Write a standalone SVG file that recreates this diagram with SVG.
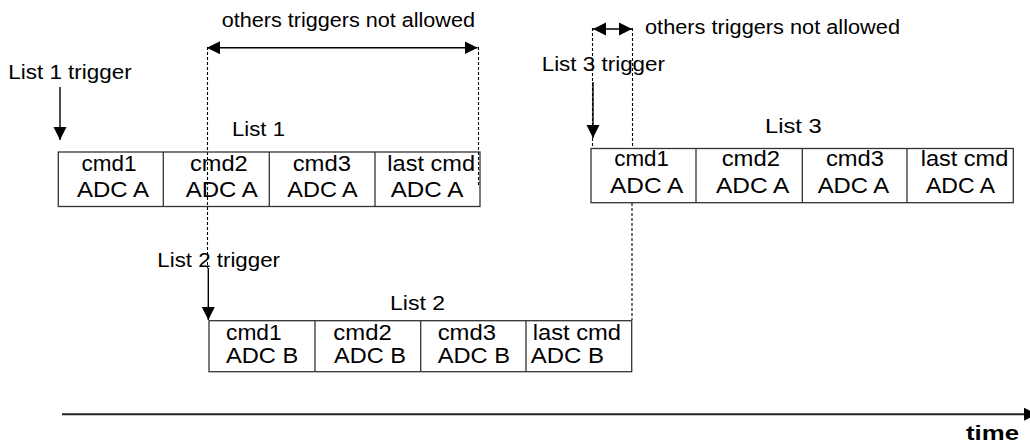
<svg xmlns="http://www.w3.org/2000/svg" width="1030" height="443" viewBox="0 0 1030 443">
<style>
text{font-family:"Liberation Sans",Arial,sans-serif;fill:#000}
.lbl{font-size:20px}
.cell{font-size:22px}
.box{fill:#fff;stroke:#333;stroke-width:1.3}
.div{stroke:#333;stroke-width:1.3}
.arr{stroke:#000;stroke-width:1.4;fill:none}
.dash{stroke:#000;stroke-width:1.1;stroke-dasharray:3 2;fill:none}
.axis{stroke:#222;stroke-width:2;fill:none}
</style>
<defs>
<marker id="ah" markerUnits="userSpaceOnUse" markerWidth="14" markerHeight="14" refX="13" refY="7" orient="auto-start-reverse">
<path d="M0,0.5 L13,7 L0,13.5 z" fill="#000"/>
</marker>
</defs>
<rect width="1030" height="443" fill="#fff"/>
<g id="connectors">
<line class="dash" x1="207.5" y1="47" x2="207.5" y2="268"/>
<line class="dash" x1="478.5" y1="47" x2="478.5" y2="185"/>
<line class="dash" x1="592.5" y1="28" x2="592.5" y2="148"/>
<line class="dash" x1="632.5" y1="28" x2="632.5" y2="148"/>
<line class="dash" x1="632" y1="203" x2="632" y2="320"/>
<line class="arr" x1="60" y1="87" x2="60" y2="140" marker-end="url(#ah)"/>
<line class="arr" x1="208.3" y1="268" x2="208.3" y2="320" marker-end="url(#ah)"/>
<line class="arr" x1="593" y1="82" x2="593" y2="138" marker-end="url(#ah)"/>
<line class="arr" x1="207" y1="47.7" x2="477.5" y2="47.7" marker-start="url(#ah)" marker-end="url(#ah)"/>
<line class="arr" x1="593" y1="29" x2="632" y2="29" marker-start="url(#ah)" marker-end="url(#ah)"/>
<line class="axis" x1="62" y1="414.3" x2="1037" y2="414.3" marker-end="url(#ah)"/>
</g>
<g id="list1">
<rect class="box" x="58.3" y="152" width="421.7" height="54.5" style="fill:none"/>
<line class="div" x1="163.3" y1="152" x2="163.3" y2="206.5"/>
<line class="div" x1="269.3" y1="152" x2="269.3" y2="206.5"/>
<line class="div" x1="375" y1="152" x2="375" y2="206.5"/>
<text class="cell" x="81.5" y="170.5" textLength="55" lengthAdjust="spacingAndGlyphs">cmd1</text>
<text class="cell" x="77" y="196.7" textLength="72" lengthAdjust="spacingAndGlyphs">ADC A</text>
<text class="cell" x="190" y="170.5" textLength="57.7" lengthAdjust="spacingAndGlyphs">cmd2</text>
<text class="cell" x="185.7" y="196.7" textLength="72" lengthAdjust="spacingAndGlyphs">ADC A</text>
<text class="cell" x="292.7" y="170.5" textLength="58.3" lengthAdjust="spacingAndGlyphs">cmd3</text>
<text class="cell" x="287.3" y="196.7" textLength="70.4" lengthAdjust="spacingAndGlyphs">ADC A</text>
<text class="cell" x="387.3" y="170.5" textLength="87.7" lengthAdjust="spacingAndGlyphs">last cmd</text>
<text class="cell" x="390.7" y="196.7" textLength="72.6" lengthAdjust="spacingAndGlyphs">ADC A</text>
</g>
<g id="list2">
<rect class="box" x="209" y="320.7" width="422.7" height="51"/>
<line class="div" x1="315" y1="320.7" x2="315" y2="371.7"/>
<line class="div" x1="420.7" y1="320.7" x2="420.7" y2="371.7"/>
<line class="div" x1="526" y1="320.7" x2="526" y2="371.7"/>
<text class="cell" x="226" y="340" textLength="55.7" lengthAdjust="spacingAndGlyphs">cmd1</text>
<text class="cell" x="226" y="362.7" textLength="72.3" lengthAdjust="spacingAndGlyphs">ADC B</text>
<text class="cell" x="333.3" y="340" textLength="58.4" lengthAdjust="spacingAndGlyphs">cmd2</text>
<text class="cell" x="334" y="362.7" textLength="72" lengthAdjust="spacingAndGlyphs">ADC B</text>
<text class="cell" x="437.7" y="340" textLength="58.3" lengthAdjust="spacingAndGlyphs">cmd3</text>
<text class="cell" x="437.7" y="362.7" textLength="72.3" lengthAdjust="spacingAndGlyphs">ADC B</text>
<text class="cell" x="532.7" y="340" textLength="88.3" lengthAdjust="spacingAndGlyphs">last cmd</text>
<text class="cell" x="530.7" y="362.7" textLength="73.3" lengthAdjust="spacingAndGlyphs">ADC B</text>
</g>
<g id="list3">
<rect class="box" x="591" y="148.5" width="422.3" height="54.2"/>
<line class="div" x1="696" y1="148.5" x2="696" y2="202.7"/>
<line class="div" x1="802.3" y1="148.5" x2="802.3" y2="202.7"/>
<line class="div" x1="907" y1="148.5" x2="907" y2="202.7"/>
<text class="cell" x="614.3" y="165.7" textLength="54.7" lengthAdjust="spacingAndGlyphs">cmd1</text>
<text class="cell" x="610" y="193.3" textLength="73.3" lengthAdjust="spacingAndGlyphs">ADC A</text>
<text class="cell" x="721.7" y="165.7" textLength="58.3" lengthAdjust="spacingAndGlyphs">cmd2</text>
<text class="cell" x="716" y="193.3" textLength="73.3" lengthAdjust="spacingAndGlyphs">ADC A</text>
<text class="cell" x="826" y="165.7" textLength="58" lengthAdjust="spacingAndGlyphs">cmd3</text>
<text class="cell" x="817.7" y="193.3" textLength="71.6" lengthAdjust="spacingAndGlyphs">ADC A</text>
<text class="cell" x="920.7" y="165.7" textLength="87.6" lengthAdjust="spacingAndGlyphs">last cmd</text>
<text class="cell" x="926" y="193.3" textLength="69" lengthAdjust="spacingAndGlyphs">ADC A</text>
</g>
<g id="labels">
<text class="lbl" x="8.3" y="79" textLength="123.4" lengthAdjust="spacingAndGlyphs">List 1 trigger</text>
<text class="lbl" x="221.7" y="26.7" textLength="253.3" lengthAdjust="spacingAndGlyphs">others triggers not allowed</text>
<text class="lbl" x="232" y="136" textLength="53" lengthAdjust="spacingAndGlyphs">List 1</text>
<text class="lbl" x="157.3" y="267.3" textLength="122.7" lengthAdjust="spacingAndGlyphs">List 2 trigger</text>
<text class="lbl" x="390" y="310" textLength="55" lengthAdjust="spacingAndGlyphs">List 2</text>
<text class="lbl" x="541.7" y="70.7" textLength="123.3" lengthAdjust="spacingAndGlyphs">List 3 trigger</text>
<text class="lbl" x="645" y="34.3" textLength="255" lengthAdjust="spacingAndGlyphs">others triggers not allowed</text>
<text class="lbl" x="765" y="132.7" textLength="56.7" lengthAdjust="spacingAndGlyphs">List 3</text>
<text class="lbl" x="966" y="440" style="font-weight:bold" textLength="53" lengthAdjust="spacingAndGlyphs">time</text>
</g>
</svg>
